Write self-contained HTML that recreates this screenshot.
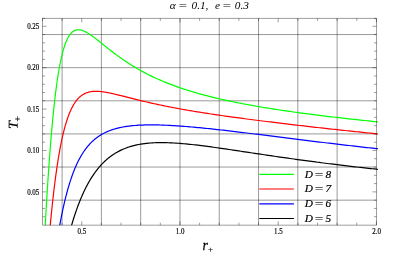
<!DOCTYPE html>
<html><head><meta charset="utf-8"><title>plot</title>
<style>html,body{margin:0;padding:0;background:#fff;}svg{display:block;}text{font-family:"Liberation Serif",serif;}</style></head>
<body>
<svg width="415" height="260" viewBox="0 0 415 260">
<rect width="415" height="260" fill="#fff"/>
<defs><clipPath id="c"><rect x="42.50" y="18.40" width="336.00" height="206.80"/></clipPath></defs>
<path d="M62.10 18.40V225.20M101.39 18.40V225.20M140.68 18.40V225.20M179.97 18.40V225.20M219.25 18.40V225.20M258.55 18.40V225.20M297.84 18.40V225.20M337.12 18.40V225.20M42.50 200.16H376.50M42.50 167.04H376.50M42.50 133.92H376.50M42.50 100.80H376.50M42.50 67.68H376.50M42.50 34.56H376.50" stroke="#000" stroke-width="1" stroke-opacity="0.4" fill="none"/>
<g clip-path="url(#c)" fill="none" stroke-width="1.20" stroke-linejoin="round" stroke-linecap="round"><g transform="translate(0,0.15)">
<polyline points="43.92,249.80 44.41,240.34 44.91,231.14 45.40,222.20 45.89,213.53 46.38,205.11 46.87,196.96 47.36,189.07 47.85,181.43 48.34,174.06 48.83,166.94 49.33,160.07 49.82,153.45 50.31,147.08 50.80,140.94 51.29,135.05 51.78,129.38 52.27,123.94 52.76,118.72 53.25,113.72 53.75,108.93 54.24,104.35 54.73,99.97 55.22,95.78 55.71,91.78 56.20,87.96 56.69,84.32 57.18,80.85 57.67,77.55 58.17,74.41 58.66,71.42 59.15,68.59 59.64,65.89 60.13,63.34 60.62,60.92 61.11,58.63 61.60,56.46 62.09,54.42 62.59,52.48 63.08,50.66 63.57,48.94 64.06,47.32 64.55,45.80 65.04,44.38 65.53,43.04 66.02,41.79 66.52,40.62 67.01,39.52 67.50,38.51 67.99,37.56 68.48,36.68 68.97,35.87 69.46,35.12 69.95,34.43 70.44,33.80 70.94,33.22 71.43,32.69 71.92,32.21 72.41,31.78 72.90,31.40 73.39,31.05 73.88,30.75 74.37,30.49 74.86,30.26 75.36,30.07 75.85,29.92 76.34,29.79 76.83,29.70 77.32,29.63 77.81,29.59 78.30,29.58 78.79,29.59 79.28,29.63 79.78,29.68 80.27,29.76 80.76,29.86 81.25,29.98 81.74,30.12 82.23,30.27 82.72,30.44 83.21,30.63 83.70,30.83 84.20,31.04 84.69,31.27 85.18,31.50 85.67,31.75 86.16,32.01 86.65,32.29 87.14,32.57 87.63,32.86 88.12,33.15 88.62,33.46 89.11,33.78 89.60,34.10 90.09,34.42 90.58,34.76 91.07,35.10 91.56,35.44 92.05,35.79 92.54,36.15 93.04,36.50 93.53,36.87 94.02,37.23 94.51,37.60 95.00,37.98 95.49,38.35 95.98,38.73 96.47,39.11 96.96,39.49 97.46,39.88 97.95,40.26 98.44,40.65 98.93,41.04 99.42,41.43 99.91,41.82 100.40,42.21 100.89,42.60 101.38,43.00 101.88,43.39 102.37,43.78 102.86,44.17 103.35,44.57 103.84,44.96 104.33,45.35 104.82,45.74 105.31,46.14 105.81,46.53 106.30,46.92 106.79,47.31 107.28,47.70 107.77,48.08 108.26,48.47 108.75,48.86 109.24,49.24 109.73,49.63 110.23,50.01 110.72,50.39 111.21,50.77 111.70,51.15 112.19,51.52 112.68,51.90 113.17,52.27 113.66,52.65 114.15,53.02 114.65,53.39 115.14,53.75 115.63,54.12 116.12,54.48 116.61,54.85 117.10,55.21 117.59,55.57 118.08,55.93 118.57,56.28 119.07,56.64 119.56,56.99 120.05,57.34 120.54,57.69 121.03,58.03 122.99,59.40 124.96,60.74 126.92,62.05 128.89,63.33 130.85,64.57 132.82,65.79 134.78,66.98 136.75,68.14 138.71,69.27 140.67,70.38 142.64,71.45 144.60,72.50 146.57,73.53 148.53,74.53 150.50,75.50 152.46,76.45 154.43,77.38 156.39,78.28 158.36,79.16 160.32,80.02 162.28,80.87 164.25,81.69 166.21,82.49 168.18,83.27 170.14,84.03 172.11,84.78 174.07,85.51 176.04,86.22 178.00,86.92 179.96,87.60 181.93,88.27 183.89,88.92 185.86,89.56 187.82,90.18 189.79,90.79 191.75,91.39 193.72,91.98 195.68,92.55 197.65,93.12 199.61,93.67 201.57,94.21 203.54,94.74 205.50,95.26 207.47,95.77 209.43,96.27 211.40,96.76 213.36,97.24 215.33,97.72 217.29,98.18 219.25,98.64 221.22,99.09 223.18,99.53 225.15,99.97 227.11,100.39 229.08,100.81 231.04,101.23 233.01,101.63 234.97,102.04 236.94,102.43 238.90,102.82 240.86,103.20 242.83,103.58 244.79,103.95 246.76,104.32 248.72,104.68 250.69,105.03 252.65,105.38 254.62,105.73 256.58,106.07 258.54,106.41 260.51,106.74 262.47,107.07 264.44,107.40 266.40,107.72 268.37,108.03 270.33,108.35 272.30,108.66 274.26,108.96 276.23,109.27 278.19,109.57 280.15,109.86 282.12,110.15 284.08,110.44 286.05,110.73 288.01,111.01 289.98,111.29 291.94,111.57 293.91,111.85 295.87,112.12 297.83,112.39 299.80,112.66 301.76,112.92 303.73,113.18 305.69,113.44 307.66,113.70 309.62,113.96 311.59,114.21 313.55,114.46 315.52,114.71 317.48,114.96 319.44,115.20 321.41,115.45 323.37,115.69 325.34,115.93 327.30,116.16 329.27,116.40 331.23,116.63 333.20,116.87 335.16,117.10 337.12,117.32 339.09,117.55 341.05,117.78 343.02,118.00 344.98,118.22 346.95,118.45 348.91,118.66 350.88,118.88 352.84,119.10 354.81,119.32 356.77,119.53 358.73,119.74 360.70,119.95 362.66,120.16 364.63,120.37 366.59,120.58 368.56,120.79 370.52,120.99 372.49,121.19 374.45,121.40 376.41,121.60 377.40,121.70" stroke="#00ff00"/>
<polyline points="48.34,247.00 48.83,241.15 49.33,235.47 49.82,229.97 50.31,224.63 50.80,219.45 51.29,214.43 51.78,209.58 52.27,204.87 52.76,200.32 53.25,195.92 53.75,191.66 54.24,187.54 54.73,183.56 55.22,179.72 55.71,176.01 56.20,172.42 56.69,168.97 57.18,165.63 57.67,162.42 58.17,159.32 58.66,156.33 59.15,153.45 59.64,150.68 60.13,148.00 60.62,145.43 61.11,142.96 61.60,140.58 62.09,138.29 62.59,136.09 63.08,133.97 63.57,131.94 64.06,129.99 64.55,128.11 65.04,126.31 65.53,124.58 66.02,122.92 66.52,121.33 67.01,119.80 67.50,118.34 67.99,116.93 68.48,115.59 68.97,114.30 69.46,113.06 69.95,111.88 70.44,110.75 70.94,109.67 71.43,108.64 71.92,107.65 72.41,106.70 72.90,105.80 73.39,104.94 73.88,104.11 74.37,103.33 74.86,102.58 75.36,101.87 75.85,101.19 76.34,100.54 76.83,99.92 77.32,99.34 77.81,98.78 78.30,98.25 78.79,97.75 79.28,97.27 79.78,96.82 80.27,96.39 80.76,95.99 81.25,95.61 81.74,95.24 82.23,94.90 82.72,94.58 83.21,94.28 83.70,94.00 84.20,93.73 84.69,93.48 85.18,93.25 85.67,93.03 86.16,92.83 86.65,92.64 87.14,92.46 87.63,92.30 88.12,92.15 88.62,92.01 89.11,91.89 89.60,91.78 90.09,91.67 90.58,91.58 91.07,91.50 91.56,91.43 92.05,91.36 92.54,91.31 93.04,91.26 93.53,91.22 94.02,91.19 94.51,91.17 95.00,91.15 95.49,91.14 95.98,91.14 96.47,91.14 96.96,91.15 97.46,91.17 97.95,91.19 98.44,91.22 98.93,91.25 99.42,91.29 99.91,91.33 100.40,91.37 100.89,91.42 101.38,91.48 101.88,91.53 102.37,91.60 102.86,91.66 103.35,91.73 103.84,91.80 104.33,91.88 104.82,91.96 105.31,92.04 105.81,92.12 106.30,92.21 106.79,92.29 107.28,92.39 107.77,92.48 108.26,92.57 108.75,92.67 109.24,92.77 109.73,92.87 110.23,92.97 110.72,93.08 111.21,93.18 111.70,93.29 112.19,93.40 112.68,93.51 113.17,93.62 113.66,93.73 114.15,93.85 114.65,93.96 115.14,94.08 115.63,94.19 116.12,94.31 116.61,94.43 117.10,94.55 117.59,94.67 118.08,94.79 118.57,94.91 119.07,95.03 119.56,95.15 120.05,95.27 120.54,95.39 121.03,95.52 122.99,96.01 124.96,96.51 126.92,97.01 128.89,97.51 130.85,98.00 132.82,98.50 134.78,98.99 136.75,99.48 138.71,99.96 140.67,100.44 142.64,100.91 144.60,101.38 146.57,101.84 148.53,102.29 150.50,102.74 152.46,103.18 154.43,103.61 156.39,104.04 158.36,104.46 160.32,104.88 162.28,105.29 164.25,105.69 166.21,106.09 168.18,106.48 170.14,106.87 172.11,107.25 174.07,107.62 176.04,107.99 178.00,108.35 179.96,108.71 181.93,109.07 183.89,109.41 185.86,109.76 187.82,110.10 189.79,110.43 191.75,110.77 193.72,111.09 195.68,111.42 197.65,111.74 199.61,112.05 201.57,112.37 203.54,112.68 205.50,112.98 207.47,113.29 209.43,113.59 211.40,113.88 213.36,114.18 215.33,114.47 217.29,114.76 219.25,115.04 221.22,115.33 223.18,115.61 225.15,115.89 227.11,116.16 229.08,116.44 231.04,116.71 233.01,116.98 234.97,117.25 236.94,117.52 238.90,117.78 240.86,118.05 242.83,118.31 244.79,118.57 246.76,118.83 248.72,119.09 250.69,119.34 252.65,119.59 254.62,119.85 256.58,120.10 258.54,120.35 260.51,120.60 262.47,120.85 264.44,121.09 266.40,121.34 268.37,121.58 270.33,121.82 272.30,122.06 274.26,122.30 276.23,122.54 278.19,122.78 280.15,123.02 282.12,123.26 284.08,123.49 286.05,123.73 288.01,123.96 289.98,124.19 291.94,124.42 293.91,124.65 295.87,124.88 297.83,125.11 299.80,125.34 301.76,125.57 303.73,125.80 305.69,126.02 307.66,126.25 309.62,126.47 311.59,126.69 313.55,126.91 315.52,127.14 317.48,127.36 319.44,127.58 321.41,127.80 323.37,128.01 325.34,128.23 327.30,128.45 329.27,128.67 331.23,128.88 333.20,129.10 335.16,129.31 337.12,129.52 339.09,129.74 341.05,129.95 343.02,130.16 344.98,130.37 346.95,130.58 348.91,130.79 350.88,130.99 352.84,131.20 354.81,131.41 356.77,131.61 358.73,131.82 360.70,132.02 362.66,132.23 364.63,132.43 366.59,132.63 368.56,132.83 370.52,133.04 372.49,133.24 374.45,133.44 376.41,133.63 377.40,133.73" stroke="#ff0000"/>
<polyline points="56.20,246.67 56.69,243.44 57.18,240.29 57.67,237.22 58.17,234.23 58.66,231.32 59.15,228.49 59.64,225.73 60.13,223.04 60.62,220.42 61.11,217.87 61.60,215.39 62.09,212.98 62.59,210.63 63.08,208.34 63.57,206.11 64.06,203.94 64.55,201.83 65.04,199.77 65.53,197.77 66.02,195.82 66.52,193.93 67.01,192.08 67.50,190.29 67.99,188.54 68.48,186.84 68.97,185.18 69.46,183.57 69.95,182.00 70.44,180.48 70.94,178.99 71.43,177.54 71.92,176.14 72.41,174.77 72.90,173.43 73.39,172.13 73.88,170.87 74.37,169.64 74.86,168.44 75.36,167.28 75.85,166.14 76.34,165.04 76.83,163.96 77.32,162.92 77.81,161.90 78.30,160.90 78.79,159.94 79.28,159.00 79.78,158.08 80.27,157.19 80.76,156.32 81.25,155.48 81.74,154.65 82.23,153.85 82.72,153.07 83.21,152.31 83.70,151.57 84.20,150.84 84.69,150.14 85.18,149.46 85.67,148.79 86.16,148.14 86.65,147.51 87.14,146.89 87.63,146.29 88.12,145.70 88.62,145.13 89.11,144.58 89.60,144.04 90.09,143.51 90.58,142.99 91.07,142.49 91.56,142.00 92.05,141.53 92.54,141.07 93.04,140.61 93.53,140.17 94.02,139.74 94.51,139.33 95.00,138.92 95.49,138.52 95.98,138.13 96.47,137.75 96.96,137.39 97.46,137.03 97.95,136.68 98.44,136.34 98.93,136.00 99.42,135.68 99.91,135.36 100.40,135.06 100.89,134.76 101.38,134.46 101.88,134.18 102.37,133.90 102.86,133.63 103.35,133.36 103.84,133.11 104.33,132.85 104.82,132.61 105.31,132.37 105.81,132.14 106.30,131.91 106.79,131.69 107.28,131.47 107.77,131.26 108.26,131.06 108.75,130.86 109.24,130.66 109.73,130.48 110.23,130.29 110.72,130.11 111.21,129.94 111.70,129.76 112.19,129.60 112.68,129.44 113.17,129.28 113.66,129.12 114.15,128.97 114.65,128.83 115.14,128.68 115.63,128.55 116.12,128.41 116.61,128.28 117.10,128.15 117.59,128.03 118.08,127.91 118.57,127.79 119.07,127.67 119.56,127.56 120.05,127.45 120.54,127.35 121.03,127.25 122.99,126.86 124.96,126.52 126.92,126.22 128.89,125.95 130.85,125.72 132.82,125.52 134.78,125.34 136.75,125.19 138.71,125.07 140.67,124.96 142.64,124.88 144.60,124.82 146.57,124.77 148.53,124.74 150.50,124.73 152.46,124.73 154.43,124.75 156.39,124.77 158.36,124.82 160.32,124.87 162.28,124.93 164.25,125.00 166.21,125.09 168.18,125.18 170.14,125.28 172.11,125.39 174.07,125.51 176.04,125.63 178.00,125.76 179.96,125.90 181.93,126.04 183.89,126.19 185.86,126.35 187.82,126.51 189.79,126.68 191.75,126.85 193.72,127.02 195.68,127.20 197.65,127.38 199.61,127.57 201.57,127.76 203.54,127.96 205.50,128.16 207.47,128.36 209.43,128.56 211.40,128.77 213.36,128.98 215.33,129.19 217.29,129.41 219.25,129.63 221.22,129.85 223.18,130.07 225.15,130.29 227.11,130.52 229.08,130.75 231.04,130.98 233.01,131.21 234.97,131.44 236.94,131.68 238.90,131.91 240.86,132.15 242.83,132.38 244.79,132.62 246.76,132.86 248.72,133.10 250.69,133.34 252.65,133.59 254.62,133.83 256.58,134.07 258.54,134.31 260.51,134.56 262.47,134.80 264.44,135.05 266.40,135.29 268.37,135.54 270.33,135.78 272.30,136.03 274.26,136.28 276.23,136.52 278.19,136.77 280.15,137.02 282.12,137.26 284.08,137.51 286.05,137.75 288.01,138.00 289.98,138.24 291.94,138.49 293.91,138.73 295.87,138.98 297.83,139.22 299.80,139.47 301.76,139.71 303.73,139.95 305.69,140.20 307.66,140.44 309.62,140.68 311.59,140.92 313.55,141.16 315.52,141.40 317.48,141.64 319.44,141.88 321.41,142.12 323.37,142.35 325.34,142.59 327.30,142.83 329.27,143.06 331.23,143.30 333.20,143.53 335.16,143.76 337.12,143.99 339.09,144.23 341.05,144.46 343.02,144.69 344.98,144.92 346.95,145.14 348.91,145.37 350.88,145.60 352.84,145.82 354.81,146.05 356.77,146.27 358.73,146.49 360.70,146.72 362.66,146.94 364.63,147.16 366.59,147.38 368.56,147.60 370.52,147.81 372.49,148.03 374.45,148.24 376.41,148.46 377.40,148.57" stroke="#0000ff"/>
<polyline points="65.53,248.58 66.02,246.46 66.52,244.38 67.01,242.34 67.50,240.34 67.99,238.38 68.48,236.46 68.97,234.57 69.46,232.72 69.95,230.90 70.44,229.12 70.94,227.38 71.43,225.66 71.92,223.98 72.41,222.33 72.90,220.71 73.39,219.13 73.88,217.57 74.37,216.04 74.86,214.54 75.36,213.07 75.85,211.63 76.34,210.22 76.83,208.83 77.32,207.47 77.81,206.13 78.30,204.82 78.79,203.54 79.28,202.27 79.78,201.04 80.27,199.82 80.76,198.63 81.25,197.46 81.74,196.32 82.23,195.19 82.72,194.09 83.21,193.01 83.70,191.94 84.20,190.90 84.69,189.88 85.18,188.87 85.67,187.89 86.16,186.92 86.65,185.98 87.14,185.05 87.63,184.13 88.12,183.24 88.62,182.36 89.11,181.50 89.60,180.65 90.09,179.82 90.58,179.01 91.07,178.21 91.56,177.43 92.05,176.66 92.54,175.91 93.04,175.17 93.53,174.44 94.02,173.73 94.51,173.03 95.00,172.35 95.49,171.67 95.98,171.01 96.47,170.37 96.96,169.73 97.46,169.11 97.95,168.50 98.44,167.90 98.93,167.31 99.42,166.74 99.91,166.17 100.40,165.62 100.89,165.07 101.38,164.54 101.88,164.02 102.37,163.50 102.86,163.00 103.35,162.51 103.84,162.02 104.33,161.55 104.82,161.08 105.31,160.63 105.81,160.18 106.30,159.74 106.79,159.31 107.28,158.89 107.77,158.48 108.26,158.07 108.75,157.68 109.24,157.29 109.73,156.91 110.23,156.53 110.72,156.17 111.21,155.81 111.70,155.46 112.19,155.11 112.68,154.77 113.17,154.44 113.66,154.12 114.15,153.80 114.65,153.49 115.14,153.18 115.63,152.89 116.12,152.59 116.61,152.31 117.10,152.03 117.59,151.75 118.08,151.49 118.57,151.22 119.07,150.97 119.56,150.71 120.05,150.47 120.54,150.23 121.03,149.99 122.99,149.10 124.96,148.29 126.92,147.54 128.89,146.87 130.85,146.25 132.82,145.70 134.78,145.20 136.75,144.76 138.71,144.36 140.67,144.01 142.64,143.70 144.60,143.43 146.57,143.20 148.53,143.00 150.50,142.84 152.46,142.71 154.43,142.61 156.39,142.53 158.36,142.48 160.32,142.46 162.28,142.46 164.25,142.48 166.21,142.52 168.18,142.58 170.14,142.65 172.11,142.74 174.07,142.85 176.04,142.97 178.00,143.11 179.96,143.26 181.93,143.42 183.89,143.59 185.86,143.77 187.82,143.96 189.79,144.16 191.75,144.37 193.72,144.59 195.68,144.81 197.65,145.04 199.61,145.28 201.57,145.52 203.54,145.77 205.50,146.03 207.47,146.28 209.43,146.55 211.40,146.81 213.36,147.08 215.33,147.36 217.29,147.63 219.25,147.91 221.22,148.19 223.18,148.48 225.15,148.76 227.11,149.05 229.08,149.34 231.04,149.63 233.01,149.92 234.97,150.21 236.94,150.51 238.90,150.80 240.86,151.09 242.83,151.39 244.79,151.69 246.76,151.98 248.72,152.28 250.69,152.57 252.65,152.87 254.62,153.16 256.58,153.46 258.54,153.75 260.51,154.04 262.47,154.34 264.44,154.63 266.40,154.92 268.37,155.21 270.33,155.50 272.30,155.79 274.26,156.07 276.23,156.36 278.19,156.65 280.15,156.93 282.12,157.21 284.08,157.50 286.05,157.78 288.01,158.06 289.98,158.33 291.94,158.61 293.91,158.88 295.87,159.16 297.83,159.43 299.80,159.70 301.76,159.97 303.73,160.24 305.69,160.50 307.66,160.77 309.62,161.03 311.59,161.29 313.55,161.55 315.52,161.81 317.48,162.07 319.44,162.32 321.41,162.58 323.37,162.83 325.34,163.08 327.30,163.33 329.27,163.58 331.23,163.82 333.20,164.07 335.16,164.31 337.12,164.55 339.09,164.79 341.05,165.02 343.02,165.26 344.98,165.49 346.95,165.73 348.91,165.96 350.88,166.19 352.84,166.42 354.81,166.64 356.77,166.87 358.73,167.09 360.70,167.31 362.66,167.53 364.63,167.75 366.59,167.97 368.56,168.18 370.52,168.40 372.49,168.61 374.45,168.82 376.41,169.03 377.40,169.13" stroke="#000000"/>
</g></g>
<path d="M42.50 18.40H376.50V225.20H42.50Z" stroke="#000" stroke-width="1" stroke-opacity="0.38" fill="none"/>
<path d="M42.45 18.40v2.50M62.10 225.20v-2.50M62.10 18.40v2.50M81.74 225.20v-4.00M81.74 18.40v4.00M101.38 225.20v-2.50M101.38 18.40v2.50M121.03 225.20v-2.50M121.03 18.40v2.50M140.68 225.20v-2.50M140.68 18.40v2.50M160.32 225.20v-2.50M160.32 18.40v2.50M179.96 225.20v-4.00M179.96 18.40v4.00M199.61 225.20v-2.50M199.61 18.40v2.50M219.25 225.20v-2.50M219.25 18.40v2.50M238.90 225.20v-2.50M238.90 18.40v2.50M258.54 225.20v-2.50M258.54 18.40v2.50M278.19 225.20v-4.00M278.19 18.40v4.00M297.83 225.20v-2.50M297.83 18.40v2.50M317.48 225.20v-2.50M317.48 18.40v2.50M337.12 225.20v-2.50M337.12 18.40v2.50M356.77 225.20v-2.50M356.77 18.40v2.50M376.41 225.20v-4.00M376.41 18.40v4.00M42.50 216.72h2.50M376.50 216.72h-2.50M42.50 208.44h2.50M376.50 208.44h-2.50M42.50 200.16h2.50M376.50 200.16h-2.50M42.50 191.88h4.00M376.50 191.88h-4.00M42.50 183.60h2.50M376.50 183.60h-2.50M42.50 175.32h2.50M376.50 175.32h-2.50M42.50 167.04h2.50M376.50 167.04h-2.50M42.50 158.76h2.50M376.50 158.76h-2.50M42.50 150.48h4.00M376.50 150.48h-4.00M42.50 142.20h2.50M376.50 142.20h-2.50M42.50 133.92h2.50M376.50 133.92h-2.50M42.50 125.64h2.50M376.50 125.64h-2.50M42.50 117.36h2.50M376.50 117.36h-2.50M42.50 109.08h4.00M376.50 109.08h-4.00M42.50 100.80h2.50M376.50 100.80h-2.50M42.50 92.52h2.50M376.50 92.52h-2.50M42.50 84.24h2.50M376.50 84.24h-2.50M42.50 75.96h2.50M376.50 75.96h-2.50M42.50 67.68h4.00M376.50 67.68h-4.00M42.50 59.40h2.50M376.50 59.40h-2.50M42.50 51.12h2.50M376.50 51.12h-2.50M42.50 42.84h2.50M376.50 42.84h-2.50M42.50 34.56h2.50M376.50 34.56h-2.50M42.50 26.28h4.00M376.50 26.28h-4.00M42.50 18.40h2.50M376.50 18.40h-2.50" stroke="#000" stroke-width="1" stroke-opacity="0.38" fill="none"/>
<path d="M259.3 174.30H293.9" stroke="#00ff00" stroke-width="1.20"/>
<path d="M259.3 189.00H293.9" stroke="#ff0000" stroke-width="1.20"/>
<path d="M259.3 203.80H293.9" stroke="#0000ff" stroke-width="1.20"/>
<path d="M259.3 218.50H293.9" stroke="#000000" stroke-width="1.20"/>
<g style="filter:grayscale(1)">
<g font-family="Liberation Serif, serif" font-size="8" fill="#000" stroke="#000" stroke-width="0.18">
<text transform="translate(81.94,234.0) scale(0.87,1)" text-anchor="middle">0.5</text>
<text transform="translate(180.16,234.0) scale(0.87,1)" text-anchor="middle">1.0</text>
<text transform="translate(278.39,234.0) scale(0.87,1)" text-anchor="middle">1.5</text>
<text transform="translate(376.61,234.0) scale(0.87,1)" text-anchor="middle">2.0</text>
<text transform="translate(39.3,194.68) scale(0.87,1)" text-anchor="end">0.05</text>
<text transform="translate(39.3,153.28) scale(0.87,1)" text-anchor="end">0.10</text>
<text transform="translate(39.3,111.88) scale(0.87,1)" text-anchor="end">0.15</text>
<text transform="translate(39.3,70.48) scale(0.87,1)" text-anchor="end">0.20</text>
<text transform="translate(39.3,29.08) scale(0.87,1)" text-anchor="end">0.25</text>
</g>
<text y="9.3" font-family="Liberation Serif, serif" font-style="italic" font-size="11.30"><tspan x="169.80">α</tspan><tspan x="191.50">0.1,</tspan><tspan x="214.90">e</tspan><tspan x="234.80">0.3</tspan></text>
<text transform="translate(177.80,9.3) scale(1.3,1)" font-family="Liberation Serif, serif" font-style="italic" font-size="11.30">=</text>
<text transform="translate(221.80,9.3) scale(1.3,1)" font-family="Liberation Serif, serif" font-style="italic" font-size="11.30">=</text>
<text transform="translate(202.5,250) scale(0.92,1)" font-family="Liberation Serif, serif" font-style="italic" font-size="15" stroke="#000" stroke-width="0.25">r</text>
<text x="208.0" y="251.7" font-family="Liberation Serif, serif" font-size="9" stroke="#000" stroke-width="0.15">+</text>
<text transform="translate(17.6,129.0) rotate(-89.7) scale(1.07,1)" font-family="Liberation Serif, serif" font-style="italic" font-size="13.3" stroke="#000" stroke-width="0.2">T</text>
<text transform="translate(20.8,121.8) rotate(-90)" font-family="Liberation Serif, serif" font-size="10" stroke="#000" stroke-width="0.15">+</text>
<text y="177.60" font-family="Liberation Serif, serif" font-style="italic" font-size="11.3" stroke="#000" stroke-width="0.2"><tspan x="304.7">D</tspan><tspan x="325.6">8</tspan></text>
<text transform="translate(314.0,177.60) scale(1.3,1)" font-family="Liberation Serif, serif" font-style="italic" font-size="11.3" stroke="#000" stroke-width="0.2">=</text>
<text y="192.30" font-family="Liberation Serif, serif" font-style="italic" font-size="11.3" stroke="#000" stroke-width="0.2"><tspan x="304.7">D</tspan><tspan x="325.6">7</tspan></text>
<text transform="translate(314.0,192.30) scale(1.3,1)" font-family="Liberation Serif, serif" font-style="italic" font-size="11.3" stroke="#000" stroke-width="0.2">=</text>
<text y="207.10" font-family="Liberation Serif, serif" font-style="italic" font-size="11.3" stroke="#000" stroke-width="0.2"><tspan x="304.7">D</tspan><tspan x="325.6">6</tspan></text>
<text transform="translate(314.0,207.10) scale(1.3,1)" font-family="Liberation Serif, serif" font-style="italic" font-size="11.3" stroke="#000" stroke-width="0.2">=</text>
<text y="221.80" font-family="Liberation Serif, serif" font-style="italic" font-size="11.3" stroke="#000" stroke-width="0.2"><tspan x="304.7">D</tspan><tspan x="325.6">5</tspan></text>
<text transform="translate(314.0,221.80) scale(1.3,1)" font-family="Liberation Serif, serif" font-style="italic" font-size="11.3" stroke="#000" stroke-width="0.2">=</text>
</g>
</svg>
</body></html>
